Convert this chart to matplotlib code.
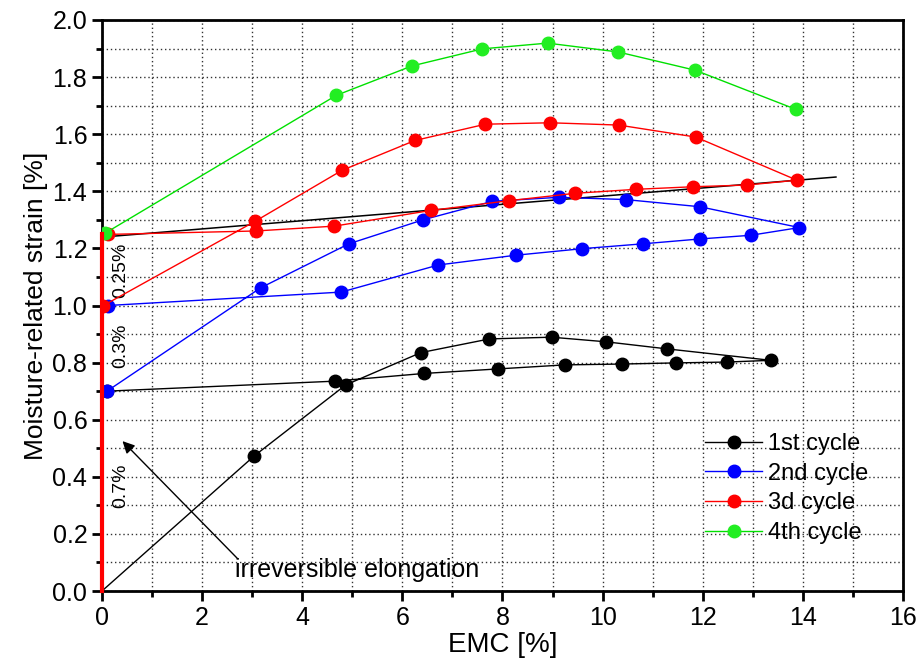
import matplotlib
matplotlib.use("Agg")
from matplotlib import pyplot as plt
from matplotlib.ticker import MultipleLocator

plt.rcParams['font.family'] = ['Liberation Sans', 'DejaVu Sans']

# 1st cycle
emc_1 = [0.0, 3.04, 4.87, 6.37, 7.74, 8.98, 10.06, 11.29, 13.36,
         12.49, 11.47, 10.39, 9.24, 7.92, 6.43, 4.65, 0.1]
strain_1 = [0.0, 0.473, 0.722, 0.835, 0.883, 0.889, 0.873, 0.848, 0.808,
            0.802, 0.799, 0.795, 0.792, 0.778, 0.762, 0.735, 0.70]

# 2nd cycle
emc_2 = [0.1, 3.17, 4.93, 6.41, 7.80, 9.13, 10.46, 11.94, 13.93,
         12.96, 11.94, 10.80, 9.59, 8.26, 6.72, 4.78, 0.12]
strain_2 = [0.70, 1.062, 1.216, 1.300, 1.365, 1.379, 1.371, 1.346, 1.273,
            1.246, 1.233, 1.216, 1.199, 1.176, 1.142, 1.047, 1.0]

# 3d cycle
emc_3 = [0.03, 3.06, 4.79, 6.25, 7.66, 8.95, 10.32, 11.86, 13.88,
         12.89, 11.81, 10.67, 9.45, 8.12, 6.57, 4.64, 3.07, 0.12]
strain_3 = [1.0, 1.295, 1.473, 1.578, 1.635, 1.640, 1.632, 1.590, 1.439,
            1.422, 1.416, 1.407, 1.393, 1.367, 1.333, 1.278, 1.261, 1.249]

# 4th cycle
emc_4 = [0.06, 4.68, 6.19, 7.60, 8.90, 10.31, 11.85, 13.86]
strain_4 = [1.253, 1.736, 1.839, 1.899, 1.919, 1.888, 1.824, 1.687]

# black reference line
trend_x = [0.1, 14.66]
trend_y = [1.241, 1.45]

# irreversible elongation (red bar at EMC = 0)
irrev_x = [0.0, 0.0]
irrev_y = [0.0, 1.25]

fig = plt.figure(figsize=(9.21, 6.71), dpi=100)
ax = fig.add_axes([0.1107, 0.1192, 0.8698, 0.8510])

ax.plot(trend_x, trend_y, color='black', linewidth=1.1, zorder=3)
ax.plot(emc_1, strain_1, color='black', linewidth=1.0, marker='o', markersize=9,
        markevery=list(range(1, len(emc_1))), label='1st cycle', zorder=4)
ax.plot(emc_2, strain_2, color='#0000ff', linewidth=1.0, marker='o', markersize=9,
        label='2nd cycle', zorder=4)
ax.plot(emc_3, strain_3, color='#ff0000', linewidth=1.0, marker='o', markersize=9,
        label='3d cycle', zorder=4)
ax.plot(emc_4, strain_4, color='#00e000', linewidth=1.0, marker='o', markersize=9,
        markerfacecolor='#22ee22', markeredgecolor='#22ee22', label='4th cycle', zorder=4)
ax.plot(irrev_x, irrev_y, color='#ff0000', linewidth=3, zorder=5, clip_on=False)

ax.text(0.37, 1.125, '0.25%', rotation=90, fontsize=14, ha='center', va='center')
ax.text(0.37, 0.86, '0.3%', rotation=90, fontsize=14, ha='center', va='center')
ax.text(0.37, 0.37, '0.7%', rotation=90, fontsize=14, ha='center', va='center')

ax.annotate('', xy=(0.41, 0.525), xytext=(2.7, 0.115),
            arrowprops=dict(arrowstyle='-|>', color='black', lw=1.0,
                            mutation_scale=18, shrinkA=0, shrinkB=0))
ax.text(2.65, 0.075, 'irreversible elongation', fontsize=18, ha='left', va='center')

ax.set_xlim(0, 16)
ax.set_ylim(0, 2.0)
ax.xaxis.set_major_locator(MultipleLocator(2))
ax.xaxis.set_minor_locator(MultipleLocator(1))
ax.yaxis.set_major_locator(MultipleLocator(0.2))
ax.yaxis.set_minor_locator(MultipleLocator(0.1))
ax.xaxis.set_major_formatter(plt.FormatStrFormatter('%d'))
ax.yaxis.set_major_formatter(plt.FormatStrFormatter('%.1f'))

ax.grid(which='both', linestyle=(0, (1, 2)), color='#333333', linewidth=1.0)
ax.set_axisbelow(True)
for sp in ax.spines.values():
    sp.set_linewidth(2)
ax.tick_params(which='major', direction='out', length=7, width=2, labelsize=18)
ax.tick_params(which='minor', direction='out', length=4, width=2)

ax.set_xlabel('EMC [%]', fontsize=20, labelpad=2)
ax.set_ylabel('Moisture-related strain [%]', fontsize=19, labelpad=3)

ax.legend(loc='upper left', bbox_to_anchor=(0.753, 0.277), frameon=False,
          fontsize=17, handlelength=2.4, handletextpad=0.25, labelspacing=0.33,
          borderpad=0, borderaxespad=0)

plt.savefig('out.png', dpi=100)
